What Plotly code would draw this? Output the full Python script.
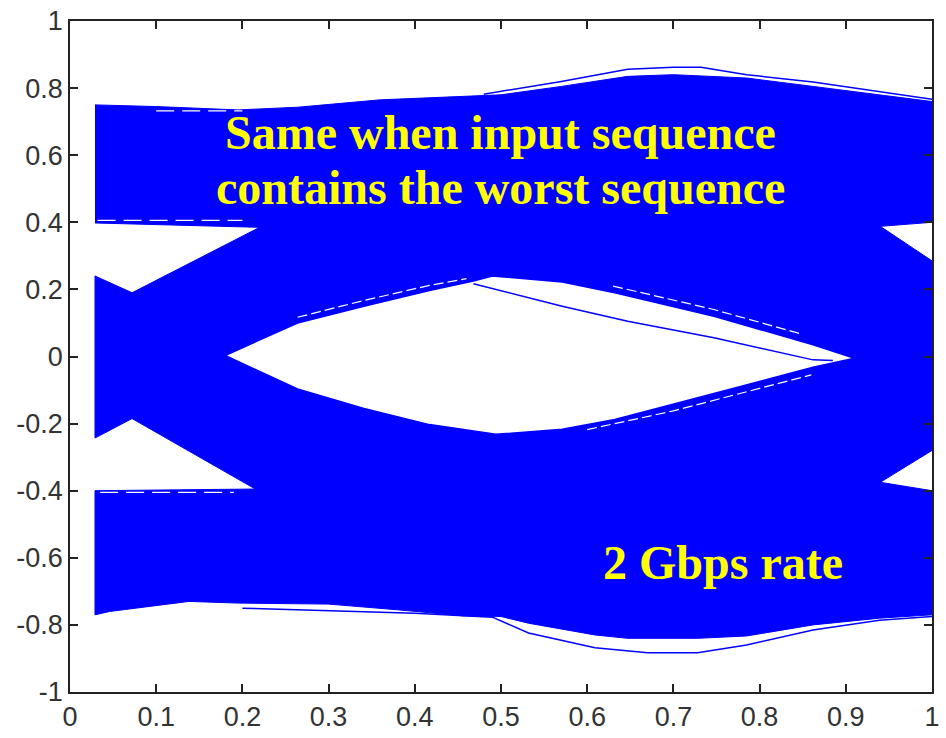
import plotly.graph_objects as go

# ---- data (x: time in UI, y: amplitude) ----
# outer envelope of the trace bundle
top_x = [0.029, 0.10, 0.195, 0.264, 0.36, 0.46, 0.50, 0.57, 0.647, 0.70, 0.785, 0.862, 0.939, 1.0]
top_y = [0.750, 0.745, 0.735, 0.743, 0.765, 0.775, 0.780, 0.805, 0.835, 0.840, 0.830, 0.805, 0.780, 0.760]
bot_x = [0.029, 0.046, 0.138, 0.195, 0.30, 0.38, 0.456, 0.50, 0.532, 0.609, 0.647, 0.728, 0.785, 0.862, 0.939, 1.0]
bot_y = [-0.770, -0.760, -0.730, -0.735, -0.738, -0.755, -0.773, -0.775, -0.795, -0.830, -0.840, -0.840, -0.833, -0.800, -0.780, -0.770]

# notches (open eye halves at the left and right edges)
right_up_x = [1.0, 0.94, 1.0]
right_up_y = [0.400, 0.388, 0.285]
right_lo_x = [1.0, 0.94, 1.0]
right_lo_y = [-0.280, -0.375, -0.400]
left_lo_x = [0.029, 0.215, 0.072, 0.029]
left_lo_y = [-0.400, -0.395, -0.185, -0.243]
left_up_x = [0.029, 0.072, 0.220, 0.029]
left_up_y = [0.240, 0.190, 0.385, 0.398]

# central eye opening
eye_up_x = [0.18, 0.264, 0.341, 0.417, 0.468, 0.49, 0.571, 0.632, 0.747, 0.862, 0.91]
eye_up_y = [0.003, 0.100, 0.150, 0.197, 0.225, 0.240, 0.222, 0.190, 0.120, 0.035, -0.005]
eye_lo_x = [0.91, 0.862, 0.747, 0.632, 0.571, 0.494, 0.417, 0.341, 0.264, 0.18]
eye_lo_y = [-0.005, -0.032, -0.110, -0.188, -0.217, -0.232, -0.203, -0.155, -0.097, 0.003]

# single stray traces (blue)
cross_x = [0.468, 0.571, 0.647, 0.747, 0.862, 0.885]
cross_y = [0.217, 0.150, 0.105, 0.056, -0.010, -0.012]
top_out_x = [0.48, 0.57, 0.647, 0.70, 0.732, 0.785, 0.862, 0.939, 1.0]
top_out_y = [0.782, 0.820, 0.856, 0.862, 0.862, 0.840, 0.818, 0.790, 0.767]
bot_out_x = [0.20, 0.30, 0.40, 0.49, 0.532, 0.609, 0.67, 0.728, 0.785, 0.862, 0.939, 1.0]
bot_out_y = [-0.750, -0.757, -0.765, -0.777, -0.824, -0.868, -0.883, -0.883, -0.860, -0.815, -0.786, -0.775]

# thin gaps between neighbouring traces (white streaks)
gap1_x = [0.10, 0.20]
gap1_y = [0.732, 0.732]
gap2_x = [0.032, 0.20]
gap2_y = [0.406, 0.406]
gap3_x = [0.035, 0.19]
gap3_y = [-0.405, -0.405]
gap4_x = [0.264, 0.341, 0.417, 0.46]
gap4_y = [0.117, 0.167, 0.212, 0.232]
gap5_x = [0.60, 0.70, 0.80, 0.86]
gap5_y = [-0.218, -0.162, -0.095, -0.055]
gap6_x = [0.63, 0.747, 0.85]
gap6_y = [0.210, 0.140, 0.066]

x_ticks = [0, 0.1, 0.2, 0.3, 0.4, 0.5, 0.6, 0.7, 0.8, 0.9, 1]
x_labels = ["0", "0.1", "0.2", "0.3", "0.4", "0.5", "0.6", "0.7", "0.8", "0.9", "1"]
y_ticks = [-1, -0.8, -0.6, -0.4, -0.2, 0, 0.2, 0.4, 0.6, 0.8, 1]
y_labels = ["-1", "-0.8", "-0.6", "-0.4", "-0.2", "0", "0.2", "0.4", "0.6", "0.8", "1"]

BLUE = "#0000FF"

# outer polygon (clockwise)
poly_x = (top_x + right_up_x + right_lo_x + bot_x[::-1] + left_lo_x + left_up_x)
poly_y = (top_y + right_up_y + right_lo_y + bot_y[::-1] + left_lo_y + left_up_y)

fig = go.Figure()
fig.add_trace(go.Scatter(x=poly_x, y=poly_y, fill="toself", fillcolor=BLUE,
                         mode="lines", line=dict(color=BLUE, width=1), hoverinfo="skip"))
for gx, gy in [(gap1_x, gap1_y), (gap2_x, gap2_y), (gap3_x, gap3_y)]:
    fig.add_trace(go.Scatter(x=gx, y=gy, mode="lines",
                             line=dict(color="white", width=1.3, dash="18px,8px"),
                             hoverinfo="skip"))
for gx, gy in [(gap4_x, gap4_y), (gap5_x, gap5_y), (gap6_x, gap6_y)]:
    fig.add_trace(go.Scatter(x=gx, y=gy, mode="lines",
                             line=dict(color="white", width=1.2, dash="10px,4px"),
                             hoverinfo="skip"))
fig.add_trace(go.Scatter(x=eye_up_x + eye_lo_x, y=eye_up_y + eye_lo_y, fill="toself",
                         fillcolor="white", mode="lines", line=dict(color=BLUE, width=1.5),
                         hoverinfo="skip"))
for lx, ly in [(cross_x, cross_y), (top_out_x, top_out_y), (bot_out_x, bot_out_y)]:
    fig.add_trace(go.Scatter(x=lx, y=ly, mode="lines", line=dict(color=BLUE, width=1.5),
                             hoverinfo="skip"))

txt_font = dict(family="Liberation Serif, Times New Roman, serif", size=48, color="#FFFF00")
fig.add_annotation(x=0.499, y=0.669, text="<b>Same when input sequence</b>", showarrow=False,
                   font=txt_font, xanchor="center", yanchor="middle")
fig.add_annotation(x=0.499, y=0.505, text="<b>contains the worst sequence</b>", showarrow=False,
                   font=txt_font, xanchor="center", yanchor="middle")
fig.add_annotation(x=0.757, y=-0.615, text="<b>2 Gbps rate</b>", showarrow=False,
                   font=txt_font, xanchor="center", yanchor="middle")

axis_common = dict(showgrid=False, zeroline=False, showline=True, linecolor="#222",
                   linewidth=1.5, mirror="ticks", ticks="inside", ticklen=8,
                   tickcolor="#222", tickwidth=1.5,
                   tickfont=dict(family="Liberation Sans, Arial, sans-serif", size=27, color="#333"))
fig.update_xaxes(range=[0, 1], tickvals=x_ticks, ticktext=x_labels, **axis_common)
fig.update_yaxes(range=[-1, 1], tickvals=y_ticks, ticktext=y_labels, **axis_common)

fig.update_layout(width=946, height=738, margin=dict(l=70, r=6, t=18, b=38),
                  paper_bgcolor="white", plot_bgcolor="white", showlegend=False)

fig.write_html("out.html")
